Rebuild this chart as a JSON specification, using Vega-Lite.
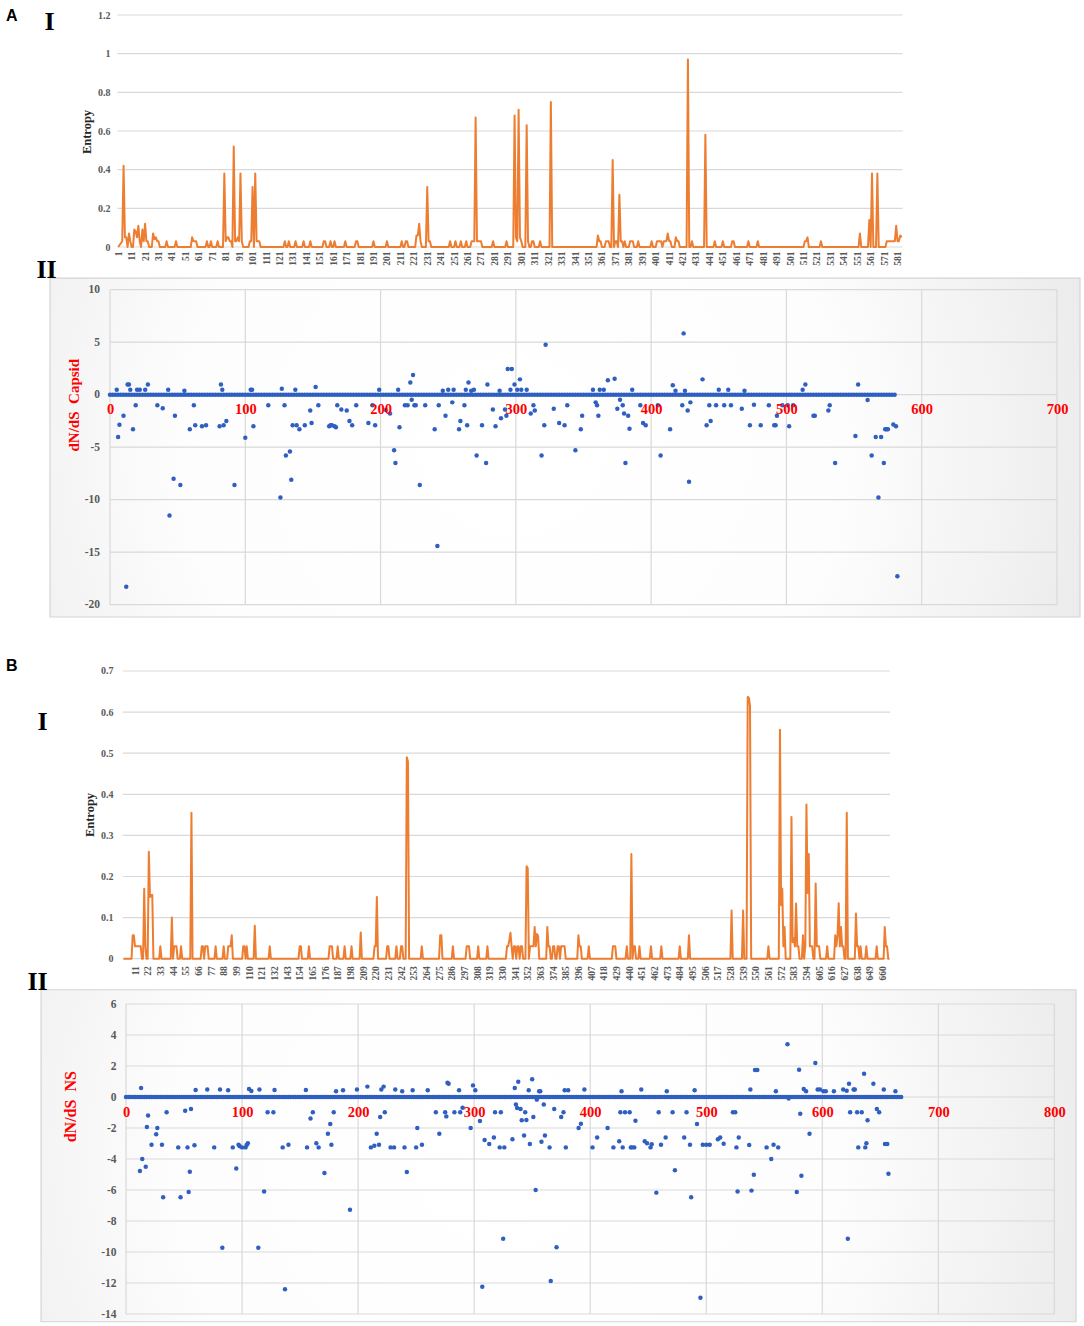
{
  "$schema": "https://vega.github.io/schema/vega-lite/v6.json",
  "background": "#ffffff",
  "padding": {"left": 6, "top": 8, "right": 0, "bottom": 0},
  "config": {
    "view": {"stroke": null},
    "axis": {"labelFont": "Liberation Serif", "labelFontWeight": "bold", "titleFont": "Liberation Serif", "titleFontWeight": "bold", "domain": false, "ticks": false, "grid": false, "labelFlush": false, "labelOverlap": false},
    "title": {"anchor": "start", "frame": "group", "font": "Liberation Sans", "fontSize": 16, "fontWeight": "bold", "color": "#000000"}
  },
  "datasets": {
    "gridEntA": [{"g": 0}, {"g": 0.2}, {"g": 0.4}, {"g": 0.6}, {"g": 0.8}, {"g": 1}, {"g": 1.2}],
    "gridEntB": [{"g": 0}, {"g": 0.1}, {"g": 0.2}, {"g": 0.3}, {"g": 0.4}, {"g": 0.5}, {"g": 0.6}, {"g": 0.7}],
    "gridA2h": [{"g": -20}, {"g": -15}, {"g": -10}, {"g": -5}, {"g": 0}, {"g": 5}, {"g": 10}],
    "gridA2v": [{"g": 0}, {"g": 100}, {"g": 200}, {"g": 300}, {"g": 400}, {"g": 500}, {"g": 600}, {"g": 700}],
    "gridB2h": [{"g": -14}, {"g": -12}, {"g": -10}, {"g": -8}, {"g": -6}, {"g": -4}, {"g": -2}, {"g": 0}, {"g": 2}, {"g": 4}, {"g": 6}],
    "gridB2v": [{"g": 0}, {"g": 100}, {"g": 200}, {"g": 300}, {"g": 400}, {"g": 500}, {"g": 600}, {"g": 700}, {"g": 800}],
    "entA": [
      {"pos":1,"entropy":0},{"pos":4,"entropy":0.03},{"pos":5,"entropy":0.42},{"pos":6,"entropy":0.05},{"pos":7,"entropy":0.05},{"pos":8,"entropy":0},{"pos":9,"entropy":0.07},{"pos":10,"entropy":0.03},{"pos":11,"entropy":0},{"pos":12,"entropy":0},
      {"pos":13,"entropy":0.09},{"pos":14,"entropy":0.08},{"pos":15,"entropy":0.05},{"pos":16,"entropy":0.11},{"pos":17,"entropy":0.03},{"pos":18,"entropy":0},{"pos":19,"entropy":0.09},{"pos":20,"entropy":0.03},{"pos":21,"entropy":0.12},{"pos":22,"entropy":0.03},
      {"pos":23,"entropy":0.03},{"pos":24,"entropy":0},{"pos":26,"entropy":0},{"pos":27,"entropy":0.07},{"pos":28,"entropy":0.04},{"pos":29,"entropy":0.05},{"pos":30,"entropy":0.03},{"pos":31,"entropy":0.03},{"pos":32,"entropy":0},{"pos":36,"entropy":0},
      {"pos":37,"entropy":0.03},{"pos":38,"entropy":0},{"pos":43,"entropy":0},{"pos":44,"entropy":0.03},{"pos":45,"entropy":0},{"pos":55,"entropy":0},{"pos":56,"entropy":0.05},{"pos":57,"entropy":0.03},{"pos":58,"entropy":0.03},{"pos":59,"entropy":0.03},
      {"pos":60,"entropy":0},{"pos":66,"entropy":0},{"pos":67,"entropy":0.03},{"pos":68,"entropy":0},{"pos":69,"entropy":0},{"pos":70,"entropy":0.03},{"pos":71,"entropy":0},{"pos":74,"entropy":0},{"pos":75,"entropy":0.03},{"pos":76,"entropy":0},
      {"pos":79,"entropy":0},{"pos":80,"entropy":0.38},{"pos":81,"entropy":0.03},{"pos":82,"entropy":0.05},{"pos":83,"entropy":0.05},{"pos":84,"entropy":0.03},{"pos":85,"entropy":0.03},{"pos":86,"entropy":0},{"pos":87,"entropy":0.52},{"pos":88,"entropy":0.03},
      {"pos":89,"entropy":0.03},{"pos":90,"entropy":0.05},{"pos":91,"entropy":0.03},{"pos":92,"entropy":0.38},{"pos":93,"entropy":0.03},{"pos":94,"entropy":0},{"pos":98,"entropy":0},{"pos":99,"entropy":0.03},{"pos":100,"entropy":0.03},{"pos":101,"entropy":0.31},
      {"pos":102,"entropy":0},{"pos":103,"entropy":0.38},{"pos":104,"entropy":0.03},{"pos":105,"entropy":0.03},{"pos":106,"entropy":0.03},{"pos":107,"entropy":0},{"pos":124,"entropy":0},{"pos":125,"entropy":0.03},{"pos":126,"entropy":0},{"pos":127,"entropy":0},
      {"pos":128,"entropy":0.03},{"pos":129,"entropy":0},{"pos":132,"entropy":0},{"pos":133,"entropy":0.03},{"pos":134,"entropy":0},{"pos":138,"entropy":0},{"pos":139,"entropy":0.03},{"pos":140,"entropy":0},{"pos":143,"entropy":0},{"pos":144,"entropy":0.03},
      {"pos":145,"entropy":0},{"pos":153,"entropy":0},{"pos":154,"entropy":0.03},{"pos":155,"entropy":0.03},{"pos":156,"entropy":0},{"pos":158,"entropy":0},{"pos":159,"entropy":0.03},{"pos":160,"entropy":0},{"pos":161,"entropy":0},{"pos":162,"entropy":0.03},
      {"pos":163,"entropy":0},{"pos":169,"entropy":0},{"pos":170,"entropy":0.03},{"pos":171,"entropy":0},{"pos":177,"entropy":0},{"pos":178,"entropy":0.03},{"pos":179,"entropy":0.03},{"pos":180,"entropy":0},{"pos":190,"entropy":0},{"pos":191,"entropy":0.03},
      {"pos":192,"entropy":0},{"pos":200,"entropy":0},{"pos":201,"entropy":0.03},{"pos":202,"entropy":0},{"pos":211,"entropy":0},{"pos":212,"entropy":0.03},{"pos":213,"entropy":0},{"pos":214,"entropy":0},{"pos":215,"entropy":0.03},{"pos":216,"entropy":0.03},
      {"pos":217,"entropy":0},{"pos":222,"entropy":0},{"pos":223,"entropy":0.06},{"pos":224,"entropy":0.06},{"pos":225,"entropy":0.12},{"pos":226,"entropy":0.03},{"pos":227,"entropy":0},{"pos":230,"entropy":0},{"pos":231,"entropy":0.31},{"pos":232,"entropy":0.03},
      {"pos":233,"entropy":0.03},{"pos":234,"entropy":0},{"pos":247,"entropy":0},{"pos":248,"entropy":0.03},{"pos":249,"entropy":0},{"pos":251,"entropy":0},{"pos":252,"entropy":0.03},{"pos":253,"entropy":0},{"pos":255,"entropy":0},{"pos":256,"entropy":0.03},
      {"pos":257,"entropy":0},{"pos":259,"entropy":0},{"pos":260,"entropy":0.03},{"pos":261,"entropy":0},{"pos":263,"entropy":0},{"pos":264,"entropy":0.03},{"pos":265,"entropy":0.03},{"pos":266,"entropy":0.03},{"pos":267,"entropy":0.67},{"pos":268,"entropy":0.03},
      {"pos":269,"entropy":0.03},{"pos":270,"entropy":0.03},{"pos":271,"entropy":0.03},{"pos":272,"entropy":0},{"pos":279,"entropy":0},{"pos":280,"entropy":0.03},{"pos":281,"entropy":0},{"pos":289,"entropy":0},{"pos":290,"entropy":0.03},{"pos":291,"entropy":0},
      {"pos":295,"entropy":0},{"pos":296,"entropy":0.68},{"pos":297,"entropy":0.05},{"pos":298,"entropy":0.03},{"pos":299,"entropy":0.71},{"pos":300,"entropy":0.05},{"pos":301,"entropy":0.03},{"pos":302,"entropy":0},{"pos":304,"entropy":0},{"pos":305,"entropy":0.63},
      {"pos":306,"entropy":0.03},{"pos":307,"entropy":0},{"pos":308,"entropy":0},{"pos":309,"entropy":0.03},{"pos":310,"entropy":0.03},{"pos":311,"entropy":0},{"pos":314,"entropy":0},{"pos":315,"entropy":0.03},{"pos":316,"entropy":0},{"pos":322,"entropy":0},
      {"pos":323,"entropy":0.75},{"pos":324,"entropy":0},{"pos":357,"entropy":0},{"pos":358,"entropy":0.06},{"pos":359,"entropy":0.03},{"pos":360,"entropy":0.03},{"pos":361,"entropy":0},{"pos":363,"entropy":0},{"pos":364,"entropy":0.03},{"pos":365,"entropy":0.03},
      {"pos":366,"entropy":0.03},{"pos":367,"entropy":0},{"pos":368,"entropy":0},{"pos":369,"entropy":0.45},{"pos":370,"entropy":0},{"pos":371,"entropy":0.03},{"pos":372,"entropy":0.03},{"pos":373,"entropy":0},{"pos":374,"entropy":0.27},{"pos":375,"entropy":0.03},
      {"pos":376,"entropy":0.03},{"pos":377,"entropy":0},{"pos":378,"entropy":0.03},{"pos":379,"entropy":0},{"pos":381,"entropy":0},{"pos":382,"entropy":0.03},{"pos":383,"entropy":0.03},{"pos":384,"entropy":0.03},{"pos":385,"entropy":0},{"pos":387,"entropy":0},
      {"pos":388,"entropy":0.03},{"pos":389,"entropy":0},{"pos":397,"entropy":0},{"pos":398,"entropy":0.03},{"pos":399,"entropy":0},{"pos":401,"entropy":0},{"pos":402,"entropy":0.03},{"pos":403,"entropy":0.03},{"pos":404,"entropy":0.03},{"pos":405,"entropy":0.03},
      {"pos":406,"entropy":0},{"pos":407,"entropy":0.03},{"pos":408,"entropy":0.03},{"pos":409,"entropy":0.03},{"pos":410,"entropy":0.07},{"pos":411,"entropy":0.03},{"pos":412,"entropy":0.03},{"pos":413,"entropy":0},{"pos":415,"entropy":0},{"pos":416,"entropy":0.05},
      {"pos":417,"entropy":0.03},{"pos":418,"entropy":0.03},{"pos":419,"entropy":0},{"pos":424,"entropy":0},{"pos":425,"entropy":0.97},{"pos":426,"entropy":0},{"pos":427,"entropy":0},{"pos":428,"entropy":0.03},{"pos":429,"entropy":0},{"pos":437,"entropy":0},
      {"pos":438,"entropy":0.58},{"pos":439,"entropy":0},{"pos":444,"entropy":0},{"pos":445,"entropy":0.03},{"pos":446,"entropy":0},{"pos":450,"entropy":0},{"pos":451,"entropy":0.03},{"pos":452,"entropy":0},{"pos":457,"entropy":0},{"pos":458,"entropy":0.03},
      {"pos":459,"entropy":0.03},{"pos":460,"entropy":0},{"pos":469,"entropy":0},{"pos":470,"entropy":0.03},{"pos":471,"entropy":0},{"pos":476,"entropy":0},{"pos":477,"entropy":0.03},{"pos":478,"entropy":0},{"pos":511,"entropy":0},{"pos":512,"entropy":0.03},
      {"pos":513,"entropy":0.03},{"pos":514,"entropy":0.05},{"pos":515,"entropy":0},{"pos":523,"entropy":0},{"pos":524,"entropy":0.03},{"pos":525,"entropy":0},{"pos":552,"entropy":0},{"pos":553,"entropy":0.07},{"pos":554,"entropy":0},{"pos":559,"entropy":0},
      {"pos":560,"entropy":0.14},{"pos":561,"entropy":0},{"pos":562,"entropy":0.38},{"pos":563,"entropy":0},{"pos":565,"entropy":0},{"pos":566,"entropy":0.38},{"pos":567,"entropy":0},{"pos":572,"entropy":0},{"pos":573,"entropy":0.03},{"pos":579,"entropy":0.03},
      {"pos":580,"entropy":0.11},{"pos":581,"entropy":0.03},{"pos":582,"entropy":0.03},{"pos":583,"entropy":0.06},{"pos":584,"entropy":0.05}
    ],
    "entB": [
      {"pos":1,"entropy":0},{"pos":8,"entropy":0},{"pos":9,"entropy":0.057},{"pos":10,"entropy":0.057},{"pos":11,"entropy":0.03},{"pos":12,"entropy":0.03},{"pos":13,"entropy":0.03},{"pos":14,"entropy":0.03},{"pos":15,"entropy":0.03},{"pos":16,"entropy":0.03},
      {"pos":17,"entropy":0},{"pos":18,"entropy":0},{"pos":19,"entropy":0.17},{"pos":20,"entropy":0.03},{"pos":21,"entropy":0},{"pos":22,"entropy":0},{"pos":23,"entropy":0.26},{"pos":24,"entropy":0.15},{"pos":25,"entropy":0.155},{"pos":26,"entropy":0.155},
      {"pos":27,"entropy":0},{"pos":32,"entropy":0},{"pos":33,"entropy":0.03},{"pos":34,"entropy":0},{"pos":42,"entropy":0},{"pos":43,"entropy":0.1},{"pos":44,"entropy":0},{"pos":45,"entropy":0.03},{"pos":46,"entropy":0.03},{"pos":47,"entropy":0.03},
      {"pos":48,"entropy":0},{"pos":50,"entropy":0},{"pos":51,"entropy":0.03},{"pos":52,"entropy":0},{"pos":59,"entropy":0},{"pos":60,"entropy":0.355},{"pos":61,"entropy":0},{"pos":68,"entropy":0},{"pos":69,"entropy":0.03},{"pos":70,"entropy":0.03},
      {"pos":71,"entropy":0},{"pos":72,"entropy":0.03},{"pos":73,"entropy":0.03},{"pos":74,"entropy":0.03},{"pos":75,"entropy":0},{"pos":80,"entropy":0},{"pos":81,"entropy":0.03},{"pos":82,"entropy":0},{"pos":87,"entropy":0},{"pos":88,"entropy":0.03},
      {"pos":89,"entropy":0},{"pos":91,"entropy":0},{"pos":92,"entropy":0.03},{"pos":93,"entropy":0.03},{"pos":94,"entropy":0.03},{"pos":95,"entropy":0.057},{"pos":96,"entropy":0},{"pos":104,"entropy":0},{"pos":105,"entropy":0.03},{"pos":106,"entropy":0.03},
      {"pos":107,"entropy":0},{"pos":108,"entropy":0.03},{"pos":109,"entropy":0},{"pos":114,"entropy":0},{"pos":115,"entropy":0.08},{"pos":116,"entropy":0},{"pos":127,"entropy":0},{"pos":128,"entropy":0.03},{"pos":129,"entropy":0},{"pos":153,"entropy":0},
      {"pos":154,"entropy":0.03},{"pos":155,"entropy":0.03},{"pos":156,"entropy":0},{"pos":161,"entropy":0},{"pos":162,"entropy":0.03},{"pos":163,"entropy":0},{"pos":179,"entropy":0},{"pos":180,"entropy":0.03},{"pos":181,"entropy":0.03},{"pos":182,"entropy":0.03},
      {"pos":183,"entropy":0},{"pos":186,"entropy":0},{"pos":187,"entropy":0.03},{"pos":188,"entropy":0},{"pos":192,"entropy":0},{"pos":193,"entropy":0.03},{"pos":194,"entropy":0},{"pos":198,"entropy":0},{"pos":199,"entropy":0.03},{"pos":200,"entropy":0},
      {"pos":206,"entropy":0},{"pos":207,"entropy":0.064},{"pos":208,"entropy":0},{"pos":218,"entropy":0},{"pos":219,"entropy":0.03},{"pos":220,"entropy":0.03},{"pos":221,"entropy":0.15},{"pos":222,"entropy":0},{"pos":229,"entropy":0},{"pos":230,"entropy":0.03},
      {"pos":231,"entropy":0.03},{"pos":232,"entropy":0},{"pos":237,"entropy":0},{"pos":238,"entropy":0.03},{"pos":239,"entropy":0},{"pos":241,"entropy":0},{"pos":242,"entropy":0.03},{"pos":243,"entropy":0.03},{"pos":244,"entropy":0},{"pos":246,"entropy":0},
      {"pos":247,"entropy":0.49},{"pos":248,"entropy":0.48},{"pos":249,"entropy":0},{"pos":259,"entropy":0},{"pos":260,"entropy":0.03},{"pos":261,"entropy":0},{"pos":275,"entropy":0},{"pos":276,"entropy":0.057},{"pos":277,"entropy":0.057},{"pos":278,"entropy":0},
      {"pos":286,"entropy":0},{"pos":287,"entropy":0.03},{"pos":288,"entropy":0},{"pos":298,"entropy":0},{"pos":299,"entropy":0.03},{"pos":300,"entropy":0.03},{"pos":301,"entropy":0.03},{"pos":302,"entropy":0},{"pos":308,"entropy":0},{"pos":309,"entropy":0.03},
      {"pos":310,"entropy":0},{"pos":316,"entropy":0},{"pos":317,"entropy":0.03},{"pos":318,"entropy":0},{"pos":333,"entropy":0},{"pos":334,"entropy":0.03},{"pos":335,"entropy":0.03},{"pos":336,"entropy":0.045},{"pos":337,"entropy":0.063},{"pos":338,"entropy":0.03},
      {"pos":339,"entropy":0},{"pos":340,"entropy":0.03},{"pos":341,"entropy":0.03},{"pos":342,"entropy":0},{"pos":343,"entropy":0.03},{"pos":344,"entropy":0.03},{"pos":345,"entropy":0},{"pos":346,"entropy":0.03},{"pos":347,"entropy":0.03},{"pos":348,"entropy":0},
      {"pos":350,"entropy":0},{"pos":351,"entropy":0.225},{"pos":352,"entropy":0.22},{"pos":353,"entropy":0},{"pos":354,"entropy":0.03},{"pos":355,"entropy":0.03},{"pos":356,"entropy":0.03},{"pos":357,"entropy":0.03},{"pos":358,"entropy":0.077},{"pos":359,"entropy":0.03},
      {"pos":360,"entropy":0.06},{"pos":361,"entropy":0.055},{"pos":362,"entropy":0},{"pos":368,"entropy":0},{"pos":369,"entropy":0.077},{"pos":370,"entropy":0.03},{"pos":371,"entropy":0.03},{"pos":372,"entropy":0},{"pos":373,"entropy":0},{"pos":374,"entropy":0.03},
      {"pos":375,"entropy":0.03},{"pos":376,"entropy":0},{"pos":377,"entropy":0},{"pos":378,"entropy":0.03},{"pos":379,"entropy":0.03},{"pos":380,"entropy":0},{"pos":381,"entropy":0.03},{"pos":382,"entropy":0.03},{"pos":383,"entropy":0.03},{"pos":384,"entropy":0.03},
      {"pos":385,"entropy":0},{"pos":395,"entropy":0},{"pos":396,"entropy":0.057},{"pos":397,"entropy":0.03},{"pos":398,"entropy":0.03},{"pos":399,"entropy":0},{"pos":404,"entropy":0},{"pos":405,"entropy":0.03},{"pos":406,"entropy":0},{"pos":425,"entropy":0},
      {"pos":426,"entropy":0.03},{"pos":427,"entropy":0.03},{"pos":428,"entropy":0.03},{"pos":429,"entropy":0},{"pos":437,"entropy":0},{"pos":438,"entropy":0.03},{"pos":439,"entropy":0},{"pos":441,"entropy":0},{"pos":442,"entropy":0.255},{"pos":443,"entropy":0},
      {"pos":444,"entropy":0.03},{"pos":445,"entropy":0.03},{"pos":446,"entropy":0},{"pos":448,"entropy":0},{"pos":449,"entropy":0.03},{"pos":450,"entropy":0},{"pos":458,"entropy":0},{"pos":459,"entropy":0.03},{"pos":460,"entropy":0},{"pos":467,"entropy":0},
      {"pos":468,"entropy":0.03},{"pos":469,"entropy":0},{"pos":483,"entropy":0},{"pos":484,"entropy":0.03},{"pos":485,"entropy":0},{"pos":491,"entropy":0},{"pos":492,"entropy":0.057},{"pos":493,"entropy":0},{"pos":528,"entropy":0},{"pos":529,"entropy":0.117},
      {"pos":530,"entropy":0},{"pos":538,"entropy":0},{"pos":539,"entropy":0.117},{"pos":540,"entropy":0},{"pos":542,"entropy":0},{"pos":543,"entropy":0.637},{"pos":544,"entropy":0.635},{"pos":545,"entropy":0.615},{"pos":546,"entropy":0},{"pos":560,"entropy":0},
      {"pos":561,"entropy":0.03},{"pos":562,"entropy":0},{"pos":570,"entropy":0},{"pos":571,"entropy":0.557},{"pos":572,"entropy":0.13},{"pos":573,"entropy":0.17},{"pos":574,"entropy":0.03},{"pos":575,"entropy":0.077},{"pos":576,"entropy":0},{"pos":580,"entropy":0},
      {"pos":581,"entropy":0.345},{"pos":582,"entropy":0.04},{"pos":583,"entropy":0.05},{"pos":584,"entropy":0.03},{"pos":585,"entropy":0.134},{"pos":586,"entropy":0.03},{"pos":587,"entropy":0.03},{"pos":588,"entropy":0},{"pos":590,"entropy":0},{"pos":591,"entropy":0.057},
      {"pos":592,"entropy":0},{"pos":593,"entropy":0.03},{"pos":594,"entropy":0.375},{"pos":595,"entropy":0.16},{"pos":596,"entropy":0.255},{"pos":597,"entropy":0.03},{"pos":598,"entropy":0.03},{"pos":599,"entropy":0.03},{"pos":600,"entropy":0},{"pos":601,"entropy":0},
      {"pos":602,"entropy":0.183},{"pos":603,"entropy":0.03},{"pos":604,"entropy":0.03},{"pos":605,"entropy":0.03},{"pos":606,"entropy":0},{"pos":611,"entropy":0},{"pos":612,"entropy":0.03},{"pos":613,"entropy":0},{"pos":618,"entropy":0},{"pos":619,"entropy":0.057},
      {"pos":620,"entropy":0.03},{"pos":621,"entropy":0.057},{"pos":622,"entropy":0.135},{"pos":623,"entropy":0.03},{"pos":624,"entropy":0.077},{"pos":625,"entropy":0.03},{"pos":626,"entropy":0.03},{"pos":627,"entropy":0},{"pos":628,"entropy":0},{"pos":629,"entropy":0.355},
      {"pos":630,"entropy":0},{"pos":636,"entropy":0},{"pos":637,"entropy":0.11},{"pos":638,"entropy":0.03},{"pos":639,"entropy":0.03},{"pos":640,"entropy":0},{"pos":641,"entropy":0.03},{"pos":642,"entropy":0},{"pos":645,"entropy":0},{"pos":646,"entropy":0.03},
      {"pos":647,"entropy":0},{"pos":654,"entropy":0},{"pos":655,"entropy":0.03},{"pos":656,"entropy":0},{"pos":661,"entropy":0},{"pos":662,"entropy":0.077},{"pos":663,"entropy":0.03},{"pos":664,"entropy":0.03},{"pos":665,"entropy":0},{"pos":666,"entropy":0}
    ],
    "dndsA": [
      {"pos":0,"dnds":0},{"pos":2,"dnds":0},{"pos":4,"dnds":0},{"pos":6,"dnds":0},{"pos":8,"dnds":0},{"pos":10,"dnds":0},{"pos":12,"dnds":0},{"pos":14,"dnds":0},{"pos":16,"dnds":0},{"pos":18,"dnds":0},
      {"pos":20,"dnds":0},{"pos":22,"dnds":0},{"pos":24,"dnds":0},{"pos":26,"dnds":0},{"pos":28,"dnds":0},{"pos":30,"dnds":0},{"pos":32,"dnds":0},{"pos":34,"dnds":0},{"pos":36,"dnds":0},{"pos":38,"dnds":0},
      {"pos":40,"dnds":0},{"pos":42,"dnds":0},{"pos":44,"dnds":0},{"pos":46,"dnds":0},{"pos":48,"dnds":0},{"pos":50,"dnds":0},{"pos":52,"dnds":0},{"pos":54,"dnds":0},{"pos":56,"dnds":0},{"pos":58,"dnds":0},
      {"pos":60,"dnds":0},{"pos":62,"dnds":0},{"pos":64,"dnds":0},{"pos":66,"dnds":0},{"pos":68,"dnds":0},{"pos":70,"dnds":0},{"pos":72,"dnds":0},{"pos":74,"dnds":0},{"pos":76,"dnds":0},{"pos":78,"dnds":0},
      {"pos":80,"dnds":0},{"pos":82,"dnds":0},{"pos":84,"dnds":0},{"pos":86,"dnds":0},{"pos":88,"dnds":0},{"pos":90,"dnds":0},{"pos":92,"dnds":0},{"pos":94,"dnds":0},{"pos":96,"dnds":0},{"pos":98,"dnds":0},
      {"pos":100,"dnds":0},{"pos":102,"dnds":0},{"pos":104,"dnds":0},{"pos":106,"dnds":0},{"pos":108,"dnds":0},{"pos":110,"dnds":0},{"pos":112,"dnds":0},{"pos":114,"dnds":0},{"pos":116,"dnds":0},{"pos":118,"dnds":0},
      {"pos":120,"dnds":0},{"pos":122,"dnds":0},{"pos":124,"dnds":0},{"pos":126,"dnds":0},{"pos":128,"dnds":0},{"pos":130,"dnds":0},{"pos":132,"dnds":0},{"pos":134,"dnds":0},{"pos":136,"dnds":0},{"pos":138,"dnds":0},
      {"pos":140,"dnds":0},{"pos":142,"dnds":0},{"pos":144,"dnds":0},{"pos":146,"dnds":0},{"pos":148,"dnds":0},{"pos":150,"dnds":0},{"pos":152,"dnds":0},{"pos":154,"dnds":0},{"pos":156,"dnds":0},{"pos":158,"dnds":0},
      {"pos":160,"dnds":0},{"pos":162,"dnds":0},{"pos":164,"dnds":0},{"pos":166,"dnds":0},{"pos":168,"dnds":0},{"pos":170,"dnds":0},{"pos":172,"dnds":0},{"pos":174,"dnds":0},{"pos":176,"dnds":0},{"pos":178,"dnds":0},
      {"pos":180,"dnds":0},{"pos":182,"dnds":0},{"pos":184,"dnds":0},{"pos":186,"dnds":0},{"pos":188,"dnds":0},{"pos":190,"dnds":0},{"pos":192,"dnds":0},{"pos":194,"dnds":0},{"pos":196,"dnds":0},{"pos":198,"dnds":0},
      {"pos":200,"dnds":0},{"pos":202,"dnds":0},{"pos":204,"dnds":0},{"pos":206,"dnds":0},{"pos":208,"dnds":0},{"pos":210,"dnds":0},{"pos":212,"dnds":0},{"pos":214,"dnds":0},{"pos":216,"dnds":0},{"pos":218,"dnds":0},
      {"pos":220,"dnds":0},{"pos":222,"dnds":0},{"pos":224,"dnds":0},{"pos":226,"dnds":0},{"pos":228,"dnds":0},{"pos":230,"dnds":0},{"pos":232,"dnds":0},{"pos":234,"dnds":0},{"pos":236,"dnds":0},{"pos":238,"dnds":0},
      {"pos":240,"dnds":0},{"pos":242,"dnds":0},{"pos":244,"dnds":0},{"pos":246,"dnds":0},{"pos":248,"dnds":0},{"pos":250,"dnds":0},{"pos":252,"dnds":0},{"pos":254,"dnds":0},{"pos":256,"dnds":0},{"pos":258,"dnds":0},
      {"pos":260,"dnds":0},{"pos":262,"dnds":0},{"pos":264,"dnds":0},{"pos":266,"dnds":0},{"pos":268,"dnds":0},{"pos":270,"dnds":0},{"pos":272,"dnds":0},{"pos":274,"dnds":0},{"pos":276,"dnds":0},{"pos":278,"dnds":0},
      {"pos":280,"dnds":0},{"pos":282,"dnds":0},{"pos":284,"dnds":0},{"pos":286,"dnds":0},{"pos":288,"dnds":0},{"pos":290,"dnds":0},{"pos":292,"dnds":0},{"pos":294,"dnds":0},{"pos":296,"dnds":0},{"pos":298,"dnds":0},
      {"pos":300,"dnds":0},{"pos":302,"dnds":0},{"pos":304,"dnds":0},{"pos":306,"dnds":0},{"pos":308,"dnds":0},{"pos":310,"dnds":0},{"pos":312,"dnds":0},{"pos":314,"dnds":0},{"pos":316,"dnds":0},{"pos":318,"dnds":0},
      {"pos":320,"dnds":0},{"pos":322,"dnds":0},{"pos":324,"dnds":0},{"pos":326,"dnds":0},{"pos":328,"dnds":0},{"pos":330,"dnds":0},{"pos":332,"dnds":0},{"pos":334,"dnds":0},{"pos":336,"dnds":0},{"pos":338,"dnds":0},
      {"pos":340,"dnds":0},{"pos":342,"dnds":0},{"pos":344,"dnds":0},{"pos":346,"dnds":0},{"pos":348,"dnds":0},{"pos":350,"dnds":0},{"pos":352,"dnds":0},{"pos":354,"dnds":0},{"pos":356,"dnds":0},{"pos":358,"dnds":0},
      {"pos":360,"dnds":0},{"pos":362,"dnds":0},{"pos":364,"dnds":0},{"pos":366,"dnds":0},{"pos":368,"dnds":0},{"pos":370,"dnds":0},{"pos":372,"dnds":0},{"pos":374,"dnds":0},{"pos":376,"dnds":0},{"pos":378,"dnds":0},
      {"pos":380,"dnds":0},{"pos":382,"dnds":0},{"pos":384,"dnds":0},{"pos":386,"dnds":0},{"pos":388,"dnds":0},{"pos":390,"dnds":0},{"pos":392,"dnds":0},{"pos":394,"dnds":0},{"pos":396,"dnds":0},{"pos":398,"dnds":0},
      {"pos":400,"dnds":0},{"pos":402,"dnds":0},{"pos":404,"dnds":0},{"pos":406,"dnds":0},{"pos":408,"dnds":0},{"pos":410,"dnds":0},{"pos":412,"dnds":0},{"pos":414,"dnds":0},{"pos":416,"dnds":0},{"pos":418,"dnds":0},
      {"pos":420,"dnds":0},{"pos":422,"dnds":0},{"pos":424,"dnds":0},{"pos":426,"dnds":0},{"pos":428,"dnds":0},{"pos":430,"dnds":0},{"pos":432,"dnds":0},{"pos":434,"dnds":0},{"pos":436,"dnds":0},{"pos":438,"dnds":0},
      {"pos":440,"dnds":0},{"pos":442,"dnds":0},{"pos":444,"dnds":0},{"pos":446,"dnds":0},{"pos":448,"dnds":0},{"pos":450,"dnds":0},{"pos":452,"dnds":0},{"pos":454,"dnds":0},{"pos":456,"dnds":0},{"pos":458,"dnds":0},
      {"pos":460,"dnds":0},{"pos":462,"dnds":0},{"pos":464,"dnds":0},{"pos":466,"dnds":0},{"pos":468,"dnds":0},{"pos":470,"dnds":0},{"pos":472,"dnds":0},{"pos":474,"dnds":0},{"pos":476,"dnds":0},{"pos":478,"dnds":0},
      {"pos":480,"dnds":0},{"pos":482,"dnds":0},{"pos":484,"dnds":0},{"pos":486,"dnds":0},{"pos":488,"dnds":0},{"pos":490,"dnds":0},{"pos":492,"dnds":0},{"pos":494,"dnds":0},{"pos":496,"dnds":0},{"pos":498,"dnds":0},
      {"pos":500,"dnds":0},{"pos":502,"dnds":0},{"pos":504,"dnds":0},{"pos":506,"dnds":0},{"pos":508,"dnds":0},{"pos":510,"dnds":0},{"pos":512,"dnds":0},{"pos":514,"dnds":0},{"pos":516,"dnds":0},{"pos":518,"dnds":0},
      {"pos":520,"dnds":0},{"pos":522,"dnds":0},{"pos":524,"dnds":0},{"pos":526,"dnds":0},{"pos":528,"dnds":0},{"pos":530,"dnds":0},{"pos":532,"dnds":0},{"pos":534,"dnds":0},{"pos":536,"dnds":0},{"pos":538,"dnds":0},
      {"pos":540,"dnds":0},{"pos":542,"dnds":0},{"pos":544,"dnds":0},{"pos":546,"dnds":0},{"pos":548,"dnds":0},{"pos":550,"dnds":0},{"pos":552,"dnds":0},{"pos":554,"dnds":0},{"pos":556,"dnds":0},{"pos":558,"dnds":0},
      {"pos":560,"dnds":0},{"pos":562,"dnds":0},{"pos":564,"dnds":0},{"pos":566,"dnds":0},{"pos":568,"dnds":0},{"pos":570,"dnds":0},{"pos":572,"dnds":0},{"pos":574,"dnds":0},{"pos":576,"dnds":0},{"pos":578,"dnds":0},
      {"pos":580,"dnds":0},
      {"pos":5,"dnds":0.48},{"pos":6,"dnds":-4.03},{"pos":7,"dnds":-2.86},{"pos":10,"dnds":-2.0},{"pos":12,"dnds":-18.3},{"pos":13,"dnds":0.98},{"pos":14,"dnds":0.98},{"pos":15,"dnds":0.48},{"pos":17,"dnds":-3.3},{"pos":19,"dnds":-1.0},
      {"pos":20,"dnds":0.48},{"pos":22,"dnds":0.48},{"pos":26,"dnds":0.48},{"pos":28,"dnds":0.98},{"pos":35,"dnds":-1.0},{"pos":39,"dnds":-1.3},{"pos":43,"dnds":0.48},{"pos":44,"dnds":-11.5},{"pos":47,"dnds":-8.0},{"pos":48,"dnds":-2.0},
      {"pos":52,"dnds":-8.6},{"pos":55,"dnds":0.38},{"pos":59,"dnds":-3.3},{"pos":62,"dnds":-1.0},{"pos":63,"dnds":-2.9},{"pos":68,"dnds":-3.0},{"pos":71,"dnds":-2.9},{"pos":81,"dnds":-3.0},{"pos":82,"dnds":0.98},{"pos":83,"dnds":0.48},
      {"pos":84,"dnds":-2.9},{"pos":86,"dnds":-2.5},{"pos":92,"dnds":-8.6},{"pos":100,"dnds":-4.1},{"pos":104,"dnds":0.48},{"pos":105,"dnds":0.48},{"pos":106,"dnds":-3.0},{"pos":117,"dnds":-1.0},{"pos":126,"dnds":-9.8},{"pos":127,"dnds":0.57},
      {"pos":129,"dnds":-1.0},{"pos":130,"dnds":-5.8},{"pos":133,"dnds":-5.4},{"pos":134,"dnds":-8.1},{"pos":135,"dnds":-2.9},{"pos":137,"dnds":0.48},{"pos":138,"dnds":-2.9},{"pos":140,"dnds":-3.3},{"pos":144,"dnds":-2.9},{"pos":148,"dnds":-1.5},
      {"pos":149,"dnds":-2.7},{"pos":152,"dnds":0.73},{"pos":154,"dnds":-1.0},{"pos":162,"dnds":-3.0},{"pos":163,"dnds":-2.9},{"pos":164,"dnds":-2.9},{"pos":166,"dnds":-3.0},{"pos":167,"dnds":-3.1},{"pos":168,"dnds":-1.0},{"pos":171,"dnds":-1.4},
      {"pos":175,"dnds":-1.5},{"pos":177,"dnds":-2.5},{"pos":179,"dnds":-2.9},{"pos":182,"dnds":-1.0},{"pos":191,"dnds":-2.7},{"pos":194,"dnds":-1.0},{"pos":196,"dnds":-2.9},{"pos":199,"dnds":0.48},{"pos":204,"dnds":-1.45},{"pos":207,"dnds":-1.8},
      {"pos":210,"dnds":-5.3},{"pos":211,"dnds":-6.5},{"pos":213,"dnds":0.48},{"pos":214,"dnds":-3.1},{"pos":218,"dnds":-1.0},{"pos":220,"dnds":-1.0},{"pos":222,"dnds":1.17},{"pos":223,"dnds":-0.48},{"pos":224,"dnds":1.87},{"pos":225,"dnds":-1.0},
      {"pos":226,"dnds":-1.0},{"pos":229,"dnds":-8.6},{"pos":233,"dnds":-1.0},{"pos":240,"dnds":-3.3},{"pos":242,"dnds":-14.4},{"pos":243,"dnds":-1.0},{"pos":246,"dnds":0.38},{"pos":248,"dnds":-2.0},{"pos":250,"dnds":0.48},{"pos":253,"dnds":-0.73},
      {"pos":254,"dnds":0.48},{"pos":258,"dnds":-3.3},{"pos":259,"dnds":-2.5},{"pos":262,"dnds":-1.0},{"pos":263,"dnds":0.48},{"pos":264,"dnds":-2.9},{"pos":265,"dnds":1.17},{"pos":267,"dnds":0.38},{"pos":269,"dnds":0.48},{"pos":271,"dnds":-5.8},
      {"pos":275,"dnds":-2.9},{"pos":278,"dnds":-6.5},{"pos":279,"dnds":0.98},{"pos":283,"dnds":-1.4},{"pos":285,"dnds":-3.0},{"pos":288,"dnds":0.38},{"pos":289,"dnds":-2.25},{"pos":292,"dnds":-1.4},{"pos":293,"dnds":-2.0},{"pos":294,"dnds":2.44},
      {"pos":296,"dnds":0.48},{"pos":297,"dnds":2.44},{"pos":299,"dnds":0.98},{"pos":301,"dnds":0.48},{"pos":303,"dnds":1.46},{"pos":304,"dnds":0.48},{"pos":308,"dnds":0.48},{"pos":311,"dnds":-1.8},{"pos":313,"dnds":-1.0},{"pos":314,"dnds":-1.5},
      {"pos":319,"dnds":-5.8},{"pos":321,"dnds":-2.9},{"pos":322,"dnds":4.76},{"pos":328,"dnds":-1.33},{"pos":332,"dnds":-2.7},{"pos":336,"dnds":-2.9},{"pos":338,"dnds":-1.0},{"pos":344,"dnds":-5.3},{"pos":348,"dnds":-3.3},{"pos":349,"dnds":-2.0},
      {"pos":357,"dnds":0.48},{"pos":359,"dnds":-0.73},{"pos":360,"dnds":-1.0},{"pos":361,"dnds":-2.0},{"pos":362,"dnds":0.48},{"pos":365,"dnds":0.48},{"pos":368,"dnds":1.37},{"pos":373,"dnds":1.52},{"pos":375,"dnds":-1.33},{"pos":377,"dnds":-0.48},
      {"pos":379,"dnds":-1.0},{"pos":380,"dnds":-1.8},{"pos":381,"dnds":-6.5},{"pos":383,"dnds":-2.0},{"pos":384,"dnds":-3.24},{"pos":386,"dnds":0.48},{"pos":392,"dnds":-1.0},{"pos":394,"dnds":-2.7},{"pos":396,"dnds":-2.9},{"pos":405,"dnds":-1.0},
      {"pos":407,"dnds":-5.8},{"pos":414,"dnds":-3.3},{"pos":416,"dnds":0.89},{"pos":418,"dnds":0.38},{"pos":423,"dnds":-1.0},{"pos":424,"dnds":5.84},{"pos":425,"dnds":0.38},{"pos":427,"dnds":-1.5},{"pos":428,"dnds":-8.3},{"pos":429,"dnds":-0.73},
      {"pos":438,"dnds":1.46},{"pos":441,"dnds":-2.9},{"pos":443,"dnds":-1.0},{"pos":444,"dnds":-2.5},{"pos":448,"dnds":-1.0},{"pos":450,"dnds":0.48},{"pos":454,"dnds":-1.0},{"pos":457,"dnds":0.48},{"pos":459,"dnds":-1.0},{"pos":467,"dnds":-1.33},
      {"pos":469,"dnds":0.38},{"pos":473,"dnds":-2.9},{"pos":476,"dnds":-0.95},{"pos":481,"dnds":-2.9},{"pos":487,"dnds":-1.0},{"pos":491,"dnds":-2.9},{"pos":492,"dnds":-2.9},{"pos":493,"dnds":-2.0},{"pos":497,"dnds":-1.0},{"pos":501,"dnds":-1.0},
      {"pos":502,"dnds":-3.0},{"pos":505,"dnds":-1.0},{"pos":512,"dnds":0.48},{"pos":514,"dnds":0.98},{"pos":520,"dnds":-2.0},{"pos":521,"dnds":-2.0},{"pos":531,"dnds":-1.5},{"pos":532,"dnds":-1.0},{"pos":536,"dnds":-6.5},{"pos":551,"dnds":-3.94},
      {"pos":553,"dnds":0.98},{"pos":560,"dnds":-0.5},{"pos":563,"dnds":-5.8},{"pos":566,"dnds":-4.03},{"pos":568,"dnds":-9.8},{"pos":570,"dnds":-4.03},{"pos":572,"dnds":-6.5},{"pos":573,"dnds":-3.3},{"pos":574,"dnds":-3.3},{"pos":575,"dnds":-3.3},
      {"pos":579,"dnds":-2.83},{"pos":581,"dnds":-3.0},{"pos":582,"dnds":-17.3}
    ],
    "dndsB": [
      {"pos":0,"dnds":0},{"pos":2,"dnds":0},{"pos":4,"dnds":0},{"pos":6,"dnds":0},{"pos":8,"dnds":0},{"pos":10,"dnds":0},{"pos":12,"dnds":0},{"pos":14,"dnds":0},{"pos":16,"dnds":0},{"pos":18,"dnds":0},
      {"pos":20,"dnds":0},{"pos":22,"dnds":0},{"pos":24,"dnds":0},{"pos":26,"dnds":0},{"pos":28,"dnds":0},{"pos":30,"dnds":0},{"pos":32,"dnds":0},{"pos":34,"dnds":0},{"pos":36,"dnds":0},{"pos":38,"dnds":0},
      {"pos":40,"dnds":0},{"pos":42,"dnds":0},{"pos":44,"dnds":0},{"pos":46,"dnds":0},{"pos":48,"dnds":0},{"pos":50,"dnds":0},{"pos":52,"dnds":0},{"pos":54,"dnds":0},{"pos":56,"dnds":0},{"pos":58,"dnds":0},
      {"pos":60,"dnds":0},{"pos":62,"dnds":0},{"pos":64,"dnds":0},{"pos":66,"dnds":0},{"pos":68,"dnds":0},{"pos":70,"dnds":0},{"pos":72,"dnds":0},{"pos":74,"dnds":0},{"pos":76,"dnds":0},{"pos":78,"dnds":0},
      {"pos":80,"dnds":0},{"pos":82,"dnds":0},{"pos":84,"dnds":0},{"pos":86,"dnds":0},{"pos":88,"dnds":0},{"pos":90,"dnds":0},{"pos":92,"dnds":0},{"pos":94,"dnds":0},{"pos":96,"dnds":0},{"pos":98,"dnds":0},
      {"pos":100,"dnds":0},{"pos":102,"dnds":0},{"pos":104,"dnds":0},{"pos":106,"dnds":0},{"pos":108,"dnds":0},{"pos":110,"dnds":0},{"pos":112,"dnds":0},{"pos":114,"dnds":0},{"pos":116,"dnds":0},{"pos":118,"dnds":0},
      {"pos":120,"dnds":0},{"pos":122,"dnds":0},{"pos":124,"dnds":0},{"pos":126,"dnds":0},{"pos":128,"dnds":0},{"pos":130,"dnds":0},{"pos":132,"dnds":0},{"pos":134,"dnds":0},{"pos":136,"dnds":0},{"pos":138,"dnds":0},
      {"pos":140,"dnds":0},{"pos":142,"dnds":0},{"pos":144,"dnds":0},{"pos":146,"dnds":0},{"pos":148,"dnds":0},{"pos":150,"dnds":0},{"pos":152,"dnds":0},{"pos":154,"dnds":0},{"pos":156,"dnds":0},{"pos":158,"dnds":0},
      {"pos":160,"dnds":0},{"pos":162,"dnds":0},{"pos":164,"dnds":0},{"pos":166,"dnds":0},{"pos":168,"dnds":0},{"pos":170,"dnds":0},{"pos":172,"dnds":0},{"pos":174,"dnds":0},{"pos":176,"dnds":0},{"pos":178,"dnds":0},
      {"pos":180,"dnds":0},{"pos":182,"dnds":0},{"pos":184,"dnds":0},{"pos":186,"dnds":0},{"pos":188,"dnds":0},{"pos":190,"dnds":0},{"pos":192,"dnds":0},{"pos":194,"dnds":0},{"pos":196,"dnds":0},{"pos":198,"dnds":0},
      {"pos":200,"dnds":0},{"pos":202,"dnds":0},{"pos":204,"dnds":0},{"pos":206,"dnds":0},{"pos":208,"dnds":0},{"pos":210,"dnds":0},{"pos":212,"dnds":0},{"pos":214,"dnds":0},{"pos":216,"dnds":0},{"pos":218,"dnds":0},
      {"pos":220,"dnds":0},{"pos":222,"dnds":0},{"pos":224,"dnds":0},{"pos":226,"dnds":0},{"pos":228,"dnds":0},{"pos":230,"dnds":0},{"pos":232,"dnds":0},{"pos":234,"dnds":0},{"pos":236,"dnds":0},{"pos":238,"dnds":0},
      {"pos":240,"dnds":0},{"pos":242,"dnds":0},{"pos":244,"dnds":0},{"pos":246,"dnds":0},{"pos":248,"dnds":0},{"pos":250,"dnds":0},{"pos":252,"dnds":0},{"pos":254,"dnds":0},{"pos":256,"dnds":0},{"pos":258,"dnds":0},
      {"pos":260,"dnds":0},{"pos":262,"dnds":0},{"pos":264,"dnds":0},{"pos":266,"dnds":0},{"pos":268,"dnds":0},{"pos":270,"dnds":0},{"pos":272,"dnds":0},{"pos":274,"dnds":0},{"pos":276,"dnds":0},{"pos":278,"dnds":0},
      {"pos":280,"dnds":0},{"pos":282,"dnds":0},{"pos":284,"dnds":0},{"pos":286,"dnds":0},{"pos":288,"dnds":0},{"pos":290,"dnds":0},{"pos":292,"dnds":0},{"pos":294,"dnds":0},{"pos":296,"dnds":0},{"pos":298,"dnds":0},
      {"pos":300,"dnds":0},{"pos":302,"dnds":0},{"pos":304,"dnds":0},{"pos":306,"dnds":0},{"pos":308,"dnds":0},{"pos":310,"dnds":0},{"pos":312,"dnds":0},{"pos":314,"dnds":0},{"pos":316,"dnds":0},{"pos":318,"dnds":0},
      {"pos":320,"dnds":0},{"pos":322,"dnds":0},{"pos":324,"dnds":0},{"pos":326,"dnds":0},{"pos":328,"dnds":0},{"pos":330,"dnds":0},{"pos":332,"dnds":0},{"pos":334,"dnds":0},{"pos":336,"dnds":0},{"pos":338,"dnds":0},
      {"pos":340,"dnds":0},{"pos":342,"dnds":0},{"pos":344,"dnds":0},{"pos":346,"dnds":0},{"pos":348,"dnds":0},{"pos":350,"dnds":0},{"pos":352,"dnds":0},{"pos":354,"dnds":0},{"pos":356,"dnds":0},{"pos":358,"dnds":0},
      {"pos":360,"dnds":0},{"pos":362,"dnds":0},{"pos":364,"dnds":0},{"pos":366,"dnds":0},{"pos":368,"dnds":0},{"pos":370,"dnds":0},{"pos":372,"dnds":0},{"pos":374,"dnds":0},{"pos":376,"dnds":0},{"pos":378,"dnds":0},
      {"pos":380,"dnds":0},{"pos":382,"dnds":0},{"pos":384,"dnds":0},{"pos":386,"dnds":0},{"pos":388,"dnds":0},{"pos":390,"dnds":0},{"pos":392,"dnds":0},{"pos":394,"dnds":0},{"pos":396,"dnds":0},{"pos":398,"dnds":0},
      {"pos":400,"dnds":0},{"pos":402,"dnds":0},{"pos":404,"dnds":0},{"pos":406,"dnds":0},{"pos":408,"dnds":0},{"pos":410,"dnds":0},{"pos":412,"dnds":0},{"pos":414,"dnds":0},{"pos":416,"dnds":0},{"pos":418,"dnds":0},
      {"pos":420,"dnds":0},{"pos":422,"dnds":0},{"pos":424,"dnds":0},{"pos":426,"dnds":0},{"pos":428,"dnds":0},{"pos":430,"dnds":0},{"pos":432,"dnds":0},{"pos":434,"dnds":0},{"pos":436,"dnds":0},{"pos":438,"dnds":0},
      {"pos":440,"dnds":0},{"pos":442,"dnds":0},{"pos":444,"dnds":0},{"pos":446,"dnds":0},{"pos":448,"dnds":0},{"pos":450,"dnds":0},{"pos":452,"dnds":0},{"pos":454,"dnds":0},{"pos":456,"dnds":0},{"pos":458,"dnds":0},
      {"pos":460,"dnds":0},{"pos":462,"dnds":0},{"pos":464,"dnds":0},{"pos":466,"dnds":0},{"pos":468,"dnds":0},{"pos":470,"dnds":0},{"pos":472,"dnds":0},{"pos":474,"dnds":0},{"pos":476,"dnds":0},{"pos":478,"dnds":0},
      {"pos":480,"dnds":0},{"pos":482,"dnds":0},{"pos":484,"dnds":0},{"pos":486,"dnds":0},{"pos":488,"dnds":0},{"pos":490,"dnds":0},{"pos":492,"dnds":0},{"pos":494,"dnds":0},{"pos":496,"dnds":0},{"pos":498,"dnds":0},
      {"pos":500,"dnds":0},{"pos":502,"dnds":0},{"pos":504,"dnds":0},{"pos":506,"dnds":0},{"pos":508,"dnds":0},{"pos":510,"dnds":0},{"pos":512,"dnds":0},{"pos":514,"dnds":0},{"pos":516,"dnds":0},{"pos":518,"dnds":0},
      {"pos":520,"dnds":0},{"pos":522,"dnds":0},{"pos":524,"dnds":0},{"pos":526,"dnds":0},{"pos":528,"dnds":0},{"pos":530,"dnds":0},{"pos":532,"dnds":0},{"pos":534,"dnds":0},{"pos":536,"dnds":0},{"pos":538,"dnds":0},
      {"pos":540,"dnds":0},{"pos":542,"dnds":0},{"pos":544,"dnds":0},{"pos":546,"dnds":0},{"pos":548,"dnds":0},{"pos":550,"dnds":0},{"pos":552,"dnds":0},{"pos":554,"dnds":0},{"pos":556,"dnds":0},{"pos":558,"dnds":0},
      {"pos":560,"dnds":0},{"pos":562,"dnds":0},{"pos":564,"dnds":0},{"pos":566,"dnds":0},{"pos":568,"dnds":0},{"pos":570,"dnds":0},{"pos":572,"dnds":0},{"pos":574,"dnds":0},{"pos":576,"dnds":0},{"pos":578,"dnds":0},
      {"pos":580,"dnds":0},{"pos":582,"dnds":0},{"pos":584,"dnds":0},{"pos":586,"dnds":0},{"pos":588,"dnds":0},{"pos":590,"dnds":0},{"pos":592,"dnds":0},{"pos":594,"dnds":0},{"pos":596,"dnds":0},{"pos":598,"dnds":0},
      {"pos":600,"dnds":0},{"pos":602,"dnds":0},{"pos":604,"dnds":0},{"pos":606,"dnds":0},{"pos":608,"dnds":0},{"pos":610,"dnds":0},{"pos":612,"dnds":0},{"pos":614,"dnds":0},{"pos":616,"dnds":0},{"pos":618,"dnds":0},
      {"pos":620,"dnds":0},{"pos":622,"dnds":0},{"pos":624,"dnds":0},{"pos":626,"dnds":0},{"pos":628,"dnds":0},{"pos":630,"dnds":0},{"pos":632,"dnds":0},{"pos":634,"dnds":0},{"pos":636,"dnds":0},{"pos":638,"dnds":0},
      {"pos":640,"dnds":0},{"pos":642,"dnds":0},{"pos":644,"dnds":0},{"pos":646,"dnds":0},{"pos":648,"dnds":0},{"pos":650,"dnds":0},{"pos":652,"dnds":0},{"pos":654,"dnds":0},{"pos":656,"dnds":0},{"pos":658,"dnds":0},
      {"pos":660,"dnds":0},{"pos":662,"dnds":0},{"pos":664,"dnds":0},{"pos":666,"dnds":0},{"pos":668,"dnds":0},
      {"pos":12,"dnds":-4.77},{"pos":13,"dnds":0.58},{"pos":14,"dnds":-4.0},{"pos":17,"dnds":-4.5},{"pos":18,"dnds":-1.94},{"pos":19,"dnds":-1.2},{"pos":22,"dnds":-3.08},{"pos":26,"dnds":-2.4},{"pos":27,"dnds":-2.0},{"pos":31,"dnds":-3.08},
      {"pos":32,"dnds":-6.47},{"pos":35,"dnds":-0.99},{"pos":45,"dnds":-3.25},{"pos":47,"dnds":-6.47},{"pos":51,"dnds":-0.88},{"pos":53,"dnds":-3.25},{"pos":54,"dnds":-6.13},{"pos":55,"dnds":-4.82},{"pos":56,"dnds":-0.77},{"pos":59,"dnds":-3.12},
      {"pos":60,"dnds":0.45},{"pos":70,"dnds":0.49},{"pos":76,"dnds":-3.25},{"pos":81,"dnds":0.49},{"pos":83,"dnds":-9.72},{"pos":88,"dnds":0.43},{"pos":92,"dnds":-3.25},{"pos":95,"dnds":-4.62},{"pos":97,"dnds":-3.08},{"pos":98,"dnds":-3.18},
      {"pos":100,"dnds":-3.25},{"pos":103,"dnds":-3.25},{"pos":104,"dnds":-3.1},{"pos":105,"dnds":-2.99},{"pos":106,"dnds":0.52},{"pos":108,"dnds":0.39},{"pos":114,"dnds":-9.72},{"pos":115,"dnds":0.49},{"pos":119,"dnds":-6.1},{"pos":122,"dnds":-0.99},
      {"pos":127,"dnds":-0.99},{"pos":128,"dnds":0.45},{"pos":135,"dnds":-3.25},{"pos":137,"dnds":-12.4},{"pos":140,"dnds":-3.08},{"pos":155,"dnds":0.45},{"pos":156,"dnds":-3.25},{"pos":159,"dnds":-1.38},{"pos":161,"dnds":-0.99},{"pos":164,"dnds":-2.99},
      {"pos":166,"dnds":-3.25},{"pos":171,"dnds":-4.9},{"pos":174,"dnds":-2.37},{"pos":176,"dnds":-1.74},{"pos":177,"dnds":-3.08},{"pos":179,"dnds":-0.99},{"pos":181,"dnds":0.37},{"pos":187,"dnds":0.43},{"pos":193,"dnds":-7.27},{"pos":199,"dnds":0.49},
      {"pos":208,"dnds":0.67},{"pos":211,"dnds":-3.25},{"pos":214,"dnds":-3.14},{"pos":216,"dnds":-2.37},{"pos":218,"dnds":-3.08},{"pos":219,"dnds":-1.29},{"pos":220,"dnds":0.49},{"pos":222,"dnds":0.67},{"pos":223,"dnds":-0.99},{"pos":228,"dnds":-3.25},
      {"pos":231,"dnds":-3.25},{"pos":232,"dnds":0.49},{"pos":238,"dnds":0.37},{"pos":240,"dnds":-3.25},{"pos":242,"dnds":-4.84},{"pos":247,"dnds":0.43},{"pos":250,"dnds":-3.25},{"pos":251,"dnds":-2.0},{"pos":255,"dnds":-3.08},{"pos":260,"dnds":0.43},
      {"pos":267,"dnds":-0.99},{"pos":270,"dnds":-2.37},{"pos":275,"dnds":-0.99},{"pos":276,"dnds":-1.25},{"pos":277,"dnds":0.92},{"pos":278,"dnds":0.86},{"pos":283,"dnds":-0.99},{"pos":287,"dnds":0.43},{"pos":288,"dnds":-0.99},{"pos":290,"dnds":-0.69},
      {"pos":297,"dnds":-2.0},{"pos":299,"dnds":0.75},{"pos":301,"dnds":0.43},{"pos":305,"dnds":-1.55},{"pos":307,"dnds":-12.24},{"pos":309,"dnds":-2.77},{"pos":313,"dnds":-3.03},{"pos":317,"dnds":-2.62},{"pos":318,"dnds":-0.99},{"pos":322,"dnds":-3.25},
      {"pos":323,"dnds":-0.99},{"pos":325,"dnds":-9.14},{"pos":326,"dnds":-3.25},{"pos":333,"dnds":-2.73},{"pos":335,"dnds":0.58},{"pos":336,"dnds":-0.49},{"pos":337,"dnds":-0.71},{"pos":338,"dnds":0.99},{"pos":340,"dnds":-0.77},{"pos":341,"dnds":-1.5},
      {"pos":343,"dnds":-2.49},{"pos":344,"dnds":-0.99},{"pos":345,"dnds":-1.48},{"pos":347,"dnds":0.43},{"pos":348,"dnds":-3.03},{"pos":350,"dnds":1.14},{"pos":351,"dnds":-1.29},{"pos":353,"dnds":-6.0},{"pos":354,"dnds":-0.17},{"pos":356,"dnds":0.37},
      {"pos":357,"dnds":0.37},{"pos":358,"dnds":-2.88},{"pos":360,"dnds":-0.49},{"pos":361,"dnds":-2.49},{"pos":365,"dnds":-3.25},{"pos":366,"dnds":-11.87},{"pos":369,"dnds":-0.77},{"pos":371,"dnds":-9.7},{"pos":375,"dnds":-1.29},{"pos":377,"dnds":-0.99},
      {"pos":378,"dnds":0.43},{"pos":379,"dnds":-3.25},{"pos":381,"dnds":0.43},{"pos":390,"dnds":-2.0},{"pos":392,"dnds":-1.72},{"pos":395,"dnds":0.49},{"pos":402,"dnds":-3.25},{"pos":406,"dnds":-2.62},{"pos":415,"dnds":-2.0},{"pos":420,"dnds":-3.25},
      {"pos":425,"dnds":-2.86},{"pos":426,"dnds":-0.99},{"pos":427,"dnds":0.37},{"pos":428,"dnds":-3.25},{"pos":430,"dnds":-0.99},{"pos":434,"dnds":-0.99},{"pos":435,"dnds":-3.25},{"pos":436,"dnds":-3.25},{"pos":438,"dnds":-3.25},{"pos":439,"dnds":-1.53},
      {"pos":444,"dnds":0.49},{"pos":447,"dnds":-2.86},{"pos":449,"dnds":-2.99},{"pos":452,"dnds":-3.25},{"pos":453,"dnds":-3.05},{"pos":457,"dnds":-6.17},{"pos":459,"dnds":-0.99},{"pos":461,"dnds":-3.08},{"pos":465,"dnds":-2.62},{"pos":466,"dnds":0.37},
      {"pos":471,"dnds":-0.99},{"pos":473,"dnds":-4.73},{"pos":481,"dnds":-2.62},{"pos":483,"dnds":-0.99},{"pos":486,"dnds":-3.08},{"pos":487,"dnds":-6.47},{"pos":490,"dnds":0.43},{"pos":492,"dnds":-1.74},{"pos":495,"dnds":-12.95},{"pos":497,"dnds":-3.08},
      {"pos":500,"dnds":-3.08},{"pos":503,"dnds":-3.08},{"pos":510,"dnds":-2.73},{"pos":512,"dnds":-2.62},{"pos":515,"dnds":-3.01},{"pos":523,"dnds":-0.99},{"pos":525,"dnds":-0.99},{"pos":526,"dnds":-3.25},{"pos":527,"dnds":-6.1},{"pos":528,"dnds":-2.62},
      {"pos":537,"dnds":-3.1},{"pos":538,"dnds":0.49},{"pos":539,"dnds":-6.04},{"pos":541,"dnds":-5.01},{"pos":542,"dnds":1.74},{"pos":544,"dnds":1.74},{"pos":552,"dnds":-3.25},{"pos":556,"dnds":-4.0},{"pos":558,"dnds":-3.08},{"pos":560,"dnds":0.37},
      {"pos":562,"dnds":-3.25},{"pos":570,"dnds":3.4},{"pos":571,"dnds":-0.1},{"pos":578,"dnds":-6.13},{"pos":580,"dnds":1.76},{"pos":581,"dnds":-1.08},{"pos":582,"dnds":-5.08},{"pos":584,"dnds":0.52},{"pos":586,"dnds":0.37},{"pos":589,"dnds":-2.37},
      {"pos":594,"dnds":2.19},{"pos":596,"dnds":0.49},{"pos":598,"dnds":0.49},{"pos":601,"dnds":0.37},{"pos":603,"dnds":0.37},{"pos":610,"dnds":0.37},{"pos":618,"dnds":0.49},{"pos":621,"dnds":0.41},{"pos":622,"dnds":-9.14},{"pos":623,"dnds":0.86},
      {"pos":624,"dnds":-0.99},{"pos":627,"dnds":0.49},{"pos":628,"dnds":0.49},{"pos":630,"dnds":-0.99},{"pos":631,"dnds":-3.25},{"pos":634,"dnds":-0.99},{"pos":636,"dnds":1.5},{"pos":637,"dnds":-3.25},{"pos":638,"dnds":-2.99},{"pos":639,"dnds":-1.5},
      {"pos":644,"dnds":0.86},{"pos":647,"dnds":-0.77},{"pos":649,"dnds":-0.99},{"pos":653,"dnds":0.49},{"pos":654,"dnds":-3.03},{"pos":656,"dnds":-3.03},{"pos":657,"dnds":-4.95},{"pos":663,"dnds":0.37}
    ]
  },
  "bounds": "flush",
  "spacing": 42.7,
  "vconcat": [
    {
      "width": 792.5,
      "height": 232,
      "title": {"text": "A", "dx": -104, "dy": 20},
      "layer": [
        {
          "data": {"name": "gridEntA"},
          "mark": {"type": "rule", "color": "#d9d9d9", "strokeWidth": 1.2},
          "encoding": {
            "y": {"field": "g", "type": "quantitative", "scale": {"domain": [0, 1.2], "nice": false, "zero": false}},
            "x": {"datum": 0.45, "type": "quantitative", "scale": {"domain": [-5.1, 584.7], "nice": false, "zero": false}},
            "x2": {"datum": 584.7}
          }
        },
        {
          "data": {"name": "entA"},
          "mark": {"type": "line", "color": "#ed7d31", "strokeWidth": 2, "strokeJoin": "round"},
          "encoding": {
            "x": {"field": "pos", "type": "quantitative", "scale": {"domain": [-5.1, 584.7], "nice": false, "zero": false},
              "axis": {"values": [1,11,21,31,41,51,61,71,81,91,101,111,121,131,141,151,161,171,181,191,201,211,221,231,241,251,261,271,281,291,301,311,321,331,341,351,361,371,381,391,401,411,421,431,441,451,461,471,481,491,501,511,521,531,541,551,561,571,581],
                "tickCount": 500, "labelExpr": "'' + datum.value", "labelOverlap": false, "labelAngle": 270, "labelFontSize": 9.5, "labelColor": "#595959", "labelPadding": 4,
                "title": "I", "titleFontSize": 26, "titleColor": "#000000", "titleX": -66, "titleY": -218, "titleAngle": 0, "titleAlign": "left", "titleBaseline": "alphabetic"}},
            "y": {"field": "entropy", "type": "quantitative", "scale": {"domain": [0, 1.2], "nice": false, "zero": false},
              "axis": {"values": [0, 0.2, 0.4, 0.6, 0.8, 1, 1.2], "tickCount": 500, "labelExpr": "'' + datum.value", "labelOverlap": false, "labelFontSize": 10, "labelColor": "#595959", "labelPadding": 0,
                "title": "Entropy", "titleFontSize": 12.5, "titleColor": "#262626", "titleX": -24, "titleY": 116.5, "titleAngle": 270, "titleAlign": "center", "titleBaseline": "middle"}}
          }
        }
      ]
    },
    {
      "width": 947,
      "height": 315,
      "layer": [
        {
          "data": {"values": [{"area": "chart"}]},
          "mark": {"type": "rect", "stroke": "#d4d4d4", "strokeWidth": 1.2,
            "fill": {"gradient": "radial", "x1": 0.45, "y1": 0.5, "x2": 0.45, "y2": 0.5, "r1": 0, "r2": 0.65,
              "stops": [{"offset": 0, "color": "#ffffff"}, {"offset": 0.5, "color": "#fdfdfd"}, {"offset": 1, "color": "#e6e6e6"}]}},
          "encoding": {
            "x": {"datum": -44.35, "type": "quantitative", "scale": {"domain": [0, 700], "nice": false, "zero": false}},
            "x2": {"datum": 717},
            "y": {"datum": 11.11, "type": "quantitative", "scale": {"domain": [-20, 10], "nice": false, "zero": false}},
            "y2": {"datum": -21.17}
          }
        },
        {
          "data": {"name": "gridA2h"},
          "mark": {"type": "rule", "color": "#d9d9d9", "strokeWidth": 1.2},
          "encoding": {
            "y": {"field": "g", "type": "quantitative", "scale": {"domain": [-20, 10], "nice": false, "zero": false}},
            "x": {"datum": 0, "type": "quantitative", "scale": {"domain": [0, 700], "nice": false, "zero": false}},
            "x2": {"datum": 700}
          }
        },
        {
          "data": {"name": "gridA2v"},
          "mark": {"type": "rule", "color": "#d9d9d9", "strokeWidth": 1.2},
          "encoding": {
            "x": {"field": "g", "type": "quantitative", "scale": {"domain": [0, 700], "nice": false, "zero": false}},
            "y": {"datum": -20, "type": "quantitative", "scale": {"domain": [-20, 10], "nice": false, "zero": false}},
            "y2": {"datum": 10}
          }
        },
        {
          "data": {"name": "dndsA"},
          "mark": {"type": "circle", "size": 20, "color": "#2e5fc1", "opacity": 1},
          "encoding": {
            "x": {"field": "pos", "type": "quantitative", "scale": {"domain": [0, 700], "nice": false, "zero": false},
              "axis": {"values": [0, 100, 200, 300, 400, 500, 600, 700], "tickCount": 500, "labelExpr": "'' + datum.value", "zindex": 1, "labelOverlap": false, "offset": -210, "labelColor": "#ff0000", "labelFontSize": 14.5, "labelPadding": 8,
                "title": "II", "titleFontSize": 26, "titleColor": "#000000", "titleX": -74, "titleY": -117.7, "titleAngle": 0, "titleAlign": "left", "titleBaseline": "alphabetic"}},
            "y": {"field": "dnds", "type": "quantitative", "scale": {"domain": [-20, 10], "nice": false, "zero": false},
              "axis": {"values": [-20, -15, -10, -5, 0, 5, 10], "tickCount": 500, "labelExpr": "'' + datum.value", "zindex": 1, "labelOverlap": false, "labelColor": "#595959", "labelFontSize": 11.5, "labelPadding": 10.5,
                "title": "dN/dS\u00a0\u00a0Capsid", "titleColor": "#ff0000", "titleFontSize": 15, "titleX": -37, "titleY": 115, "titleAngle": 270, "titleAlign": "center", "titleBaseline": "middle"}}
          }
        }
      ]
    },
    {
      "width": 780,
      "height": 311.3,
      "title": {"text": "B", "dx": -104, "dy": 30.8},
      "layer": [
        {
          "data": {"name": "gridEntB"},
          "mark": {"type": "rule", "color": "#d9d9d9", "strokeWidth": 1.2},
          "encoding": {
            "y": {"field": "g", "type": "quantitative", "scale": {"domain": [0, 0.7574], "nice": false, "zero": false}},
            "x": {"datum": 0.32, "type": "quantitative", "scale": {"domain": [-10.71, 666.55], "nice": false, "zero": false}},
            "x2": {"datum": 666.55}
          }
        },
        {
          "data": {"name": "entB"},
          "mark": {"type": "line", "color": "#ed7d31", "strokeWidth": 2, "strokeJoin": "round"},
          "encoding": {
            "x": {"field": "pos", "type": "quantitative", "scale": {"domain": [-10.71, 666.55], "nice": false, "zero": false},
              "axis": {"values": [11,22,33,44,55,66,77,88,99,110,121,132,143,154,165,176,187,198,209,220,231,242,253,264,275,286,297,308,319,330,341,352,363,374,385,396,407,418,429,440,451,462,473,484,495,506,517,528,539,550,561,572,583,594,605,616,627,638,649,660],
                "tickCount": 500, "labelExpr": "'' + datum.value", "labelOverlap": false, "labelAngle": 270, "labelFontSize": 9.5, "labelColor": "#595959", "labelPadding": 7,
                "title": "I", "titleFontSize": 26, "titleColor": "#000000", "titleX": -73, "titleY": -229.7, "titleAngle": 0, "titleAlign": "left", "titleBaseline": "alphabetic"}},
            "y": {"field": "entropy", "type": "quantitative", "scale": {"domain": [0, 0.7574], "nice": false, "zero": false},
              "axis": {"values": [0, 0.1, 0.2, 0.3, 0.4, 0.5, 0.6, 0.7], "tickCount": 500, "labelExpr": "'' + datum.value", "labelOverlap": false, "labelFontSize": 10, "labelColor": "#595959", "labelPadding": -3,
                "title": "Entropy", "titleFontSize": 12.5, "titleColor": "#262626", "titleX": -21, "titleY": 167.1, "titleAngle": 270, "titleAlign": "center", "titleBaseline": "middle"}}
          }
        }
      ]
    },
    {
      "width": 944.4,
      "height": 311.9,
      "layer": [
        {
          "data": {"values": [{"area": "chart"}]},
          "mark": {"type": "rect", "stroke": "#d4d4d4", "strokeWidth": 1.2,
            "fill": {"gradient": "radial", "x1": 0.45, "y1": 0.5, "x2": 0.45, "y2": 0.5, "r1": 0, "r2": 0.65,
              "stops": [{"offset": 0, "color": "#ffffff"}, {"offset": 0.5, "color": "#fdfdfd"}, {"offset": 1, "color": "#e6e6e6"}]}},
          "encoding": {
            "x": {"datum": -73.2, "type": "quantitative", "scale": {"domain": [-13.79, 800], "nice": false, "zero": false}},
            "x2": {"datum": 818.6},
            "y": {"datum": 6.92, "type": "quantitative", "scale": {"domain": [-14, 6.1226], "nice": false, "zero": false}},
            "y2": {"datum": -14.5}
          }
        },
        {
          "data": {"name": "gridB2h"},
          "mark": {"type": "rule", "color": "#d9d9d9", "strokeWidth": 1.2},
          "encoding": {
            "y": {"field": "g", "type": "quantitative", "scale": {"domain": [-14, 6.1226], "nice": false, "zero": false}},
            "x": {"datum": 0, "type": "quantitative", "scale": {"domain": [-13.79, 800], "nice": false, "zero": false}},
            "x2": {"datum": 800}
          }
        },
        {
          "data": {"name": "gridB2v"},
          "mark": {"type": "rule", "color": "#d9d9d9", "strokeWidth": 1.2},
          "encoding": {
            "x": {"field": "g", "type": "quantitative", "scale": {"domain": [-13.79, 800], "nice": false, "zero": false}},
            "y": {"datum": -14, "type": "quantitative", "scale": {"domain": [-14, 6.1226], "nice": false, "zero": false}},
            "y2": {"datum": 6}
          }
        },
        {
          "data": {"name": "dndsB"},
          "mark": {"type": "circle", "size": 20, "color": "#2e5fc1", "opacity": 1},
          "encoding": {
            "x": {"field": "pos", "type": "quantitative", "scale": {"domain": [-13.79, 800], "nice": false, "zero": false},
              "axis": {"values": [0, 100, 200, 300, 400, 500, 600, 700, 800], "tickCount": 500, "labelExpr": "'' + datum.value", "zindex": 1, "labelOverlap": false, "offset": -217, "labelColor": "#ff0000", "labelFontSize": 14.5, "labelPadding": 8,
                "title": "II", "titleFontSize": 26, "titleColor": "#000000", "titleX": -83, "titleY": -107.3, "titleAngle": 0, "titleAlign": "left", "titleBaseline": "alphabetic"}},
            "y": {"field": "dnds", "type": "quantitative", "scale": {"domain": [-14, 6.1226], "nice": false, "zero": false},
              "axis": {"values": [-14, -12, -10, -8, -6, -4, -2, 0, 2, 4, 6], "tickCount": 500, "labelExpr": "'' + datum.value", "zindex": 1, "labelOverlap": false, "labelColor": "#595959", "labelFontSize": 11.5, "labelPadding": -6,
                "title": "dN/dS\u00a0\u00a0NS", "titleColor": "#ff0000", "titleFontSize": 16, "titleX": -39.5, "titleY": 104.1, "titleAngle": 270, "titleAlign": "center", "titleBaseline": "middle"}}
          }
        }
      ]
    }
  ]
}
